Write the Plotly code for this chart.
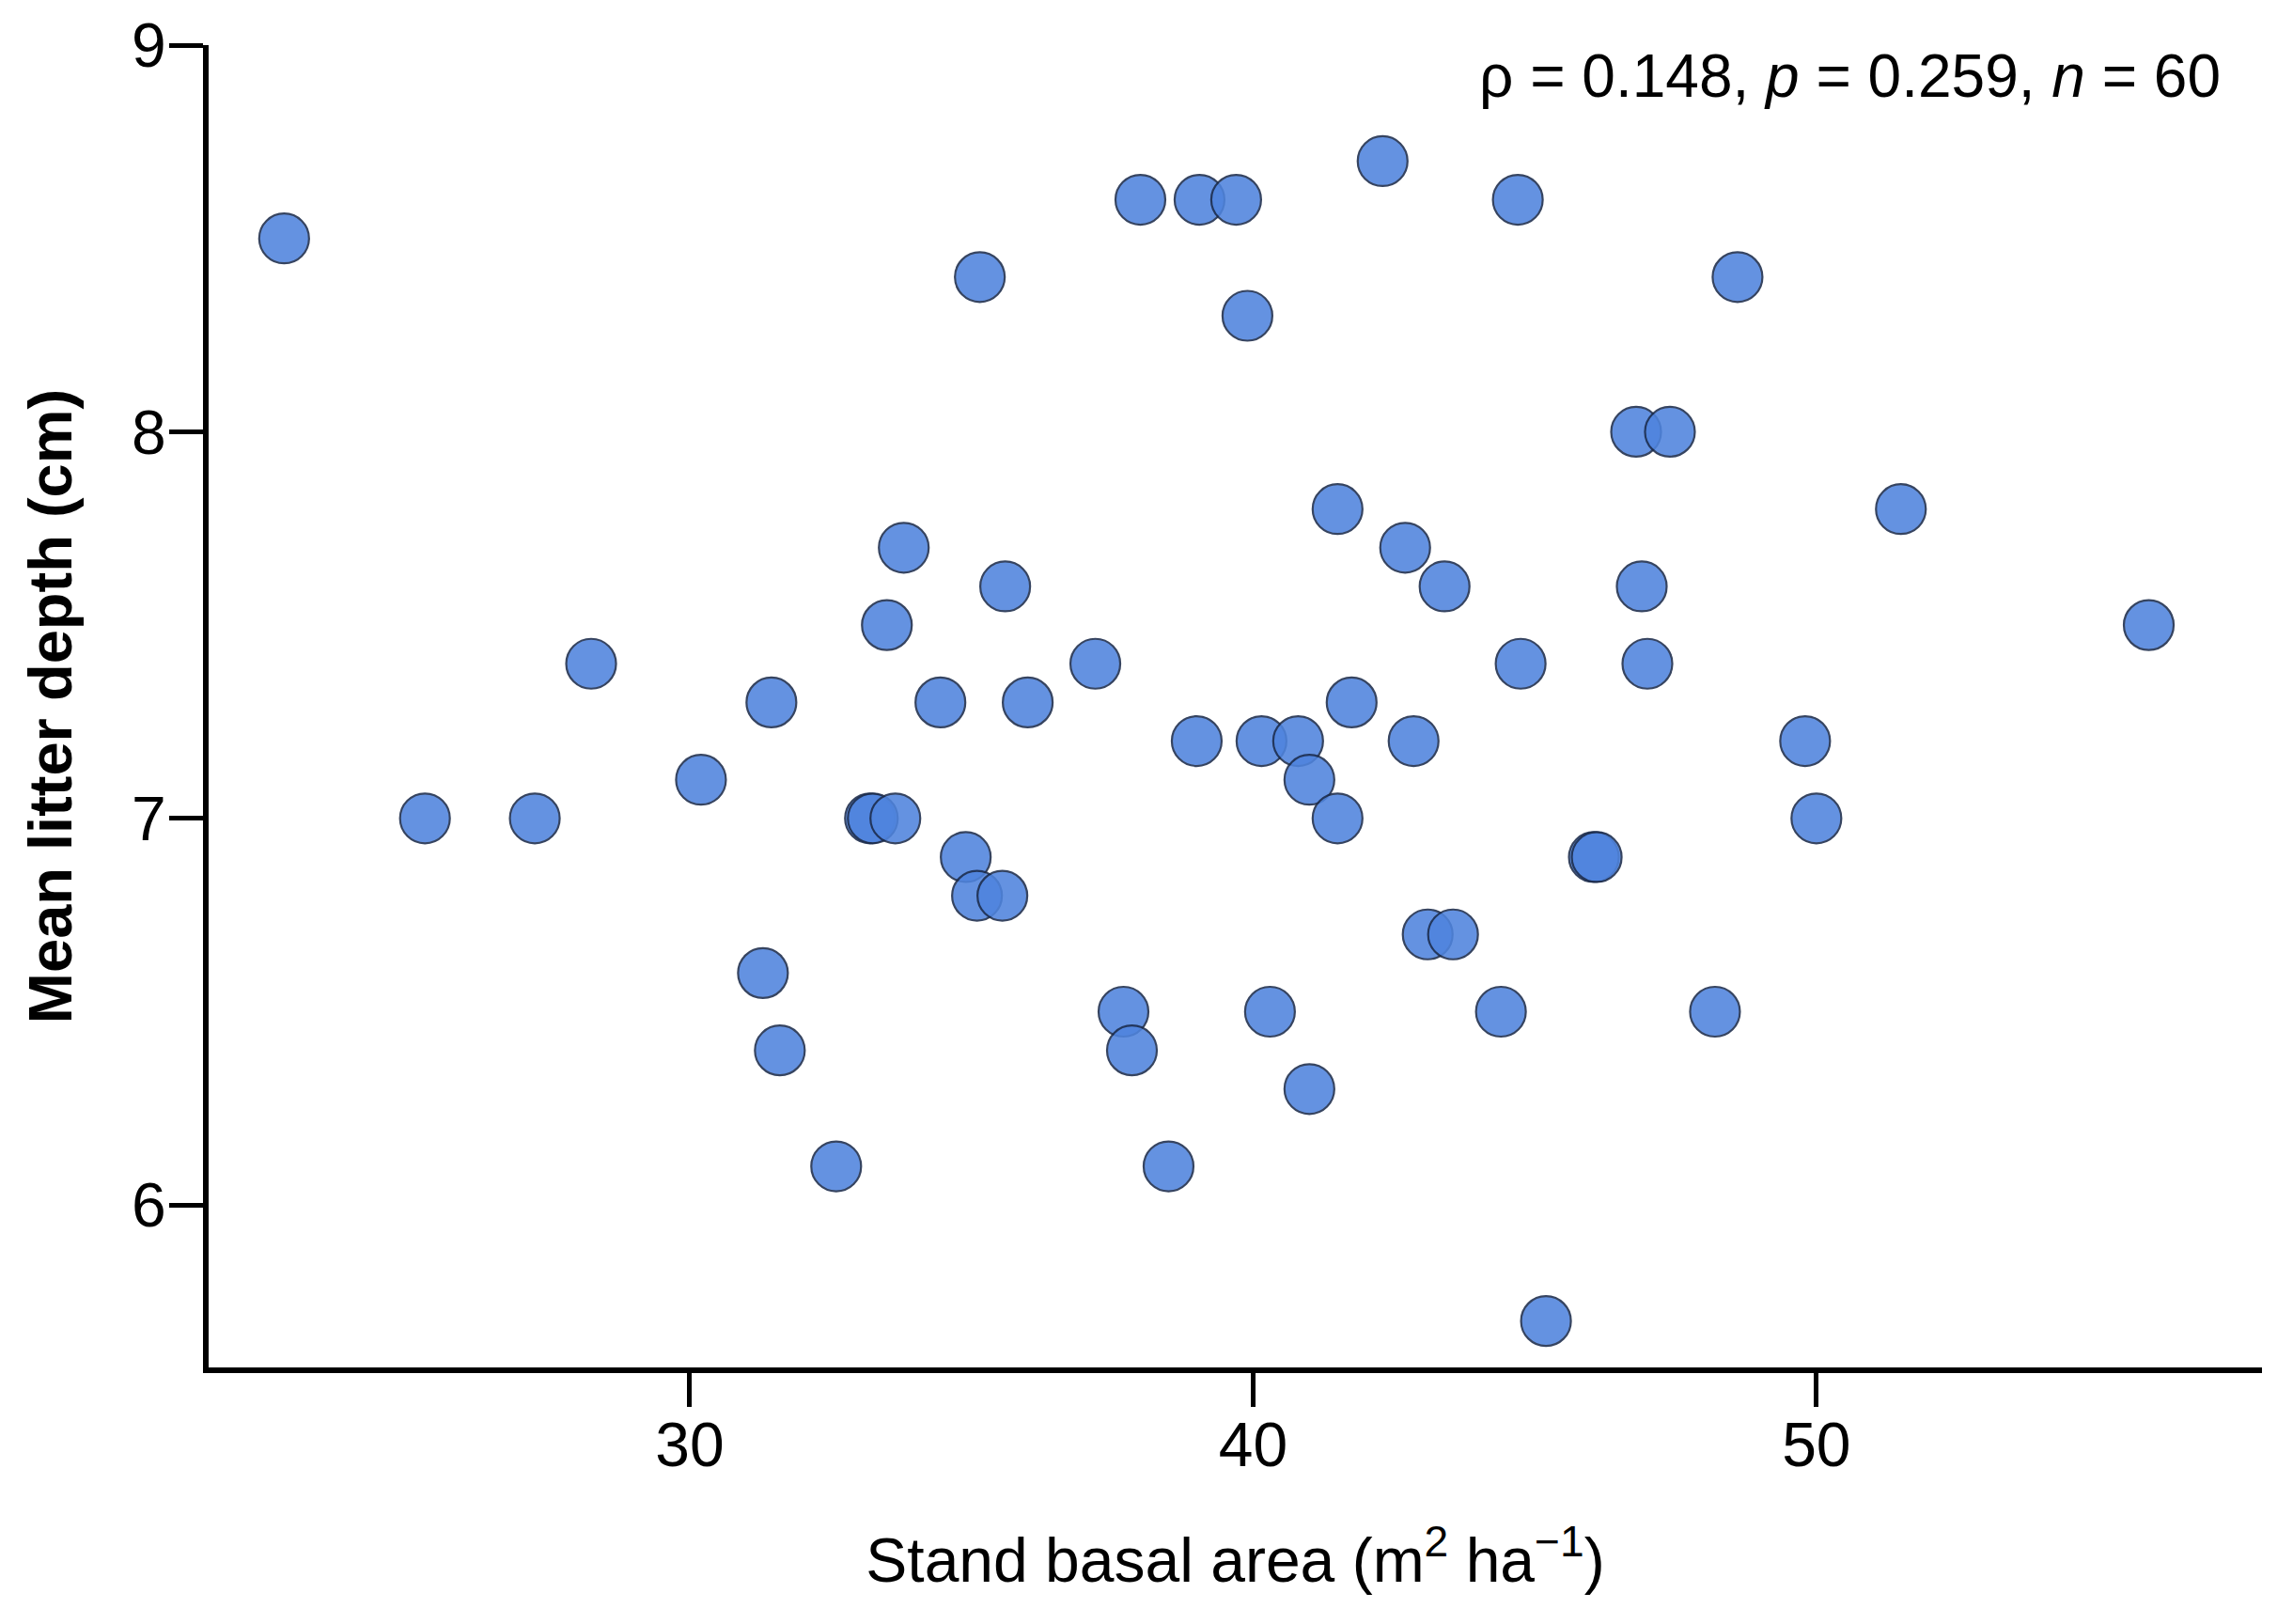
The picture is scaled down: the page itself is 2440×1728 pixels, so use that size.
import plotly.graph_objects as go

# Stand basal area (m2 ha-1)
basal_area = [22.8, 25.3, 27.25, 28.25, 30.2, 31.45, 31.3, 31.6, 32.6, 33.2,
              33.25, 33.65, 33.5, 33.8, 34.45, 34.9, 35.1, 35.55, 35.15, 35.6,
              36.0, 37.2, 37.7, 37.85, 38.0, 38.5, 39.0, 39.05, 39.7, 39.9,
              40.15, 40.3, 40.8, 41.0, 41.0, 41.5, 41.5, 41.75, 42.3, 42.7,
              42.85, 43.1, 43.4, 43.55, 44.4, 44.7, 44.75, 45.2, 46.05, 46.1,
              46.8, 47.4, 46.9, 47.0, 48.2, 48.6, 49.8, 50.0, 51.5, 55.9]
# Mean litter depth (cm)
litter_depth = [8.5, 7.0, 7.0, 7.4, 7.1, 7.3, 6.6, 6.4, 6.1, 7.0,
                7.0, 7.0, 7.5, 7.7, 7.3, 6.9, 6.8, 6.8, 8.4, 7.6,
                7.3, 7.4, 6.5, 6.4, 8.6, 6.1, 7.2, 8.6, 8.6, 8.3,
                7.2, 6.5, 7.2, 7.1, 6.3, 7.0, 7.8, 7.3, 8.7, 7.7,
                7.2, 6.7, 7.6, 6.7, 6.5, 8.6, 7.4, 5.7, 6.9, 6.9,
                8.0, 8.0, 7.6, 7.4, 6.5, 8.4, 7.2, 7.0, 7.8, 7.5]

x_ticks = [30, 40, 50]
y_ticks = [6, 7, 8, 9]
stats_text = "ρ = 0.148, <i>p</i> = 0.259, <i>n</i> = 60"

FONT = "Liberation Sans, Arial, sans-serif"

fig = go.Figure()
fig.add_trace(go.Scatter(
    x=basal_area, y=litter_depth, mode="markers",
    marker=dict(size=53, color="#4f84de", opacity=0.88,
                line=dict(color="#1b2b4b", width=2.2)),
    hoverinfo="x+y", showlegend=False,
))

axis_common = dict(showgrid=False, zeroline=False, showline=True,
                   linecolor="black", linewidth=6, ticks="outside",
                   ticklen=36, tickwidth=5, tickcolor="black",
                   tickfont=dict(family=FONT, size=66, color="black"))

fig.update_xaxes(range=[21.46, 57.91], tickvals=x_ticks, **axis_common,
                 ticklabelstandoff=-16,
                 title=dict(text="Stand basal area (m<sup>2</sup> ha<sup>−1</sup>)",
                            font=dict(family=FONT, size=66, color="black"),
                            standoff=66))
fig.update_yaxes(range=[5.58, 9.0], tickvals=y_ticks, **axis_common,
                 ticklabelstandoff=-10,
                 title=dict(text="<b>Mean litter depth (cm)</b>",
                            font=dict(family=FONT, size=65, color="black"),
                            standoff=44))

fig.add_annotation(xref="paper", yref="paper", x=0.9808, y=0.9765,
                   xanchor="right", yanchor="middle", showarrow=False,
                   text=stats_text,
                   font=dict(family=FONT, size=64, color="black"))

fig.update_layout(width=2440, height=1728,
                  margin=dict(l=222, r=33, t=48, b=273),
                  plot_bgcolor="white", paper_bgcolor="white")

fig.write_html("out.html", config={"displayModeBar": False},
               post_script="document.body.style.margin='0';document.body.style.overflow='hidden';")
